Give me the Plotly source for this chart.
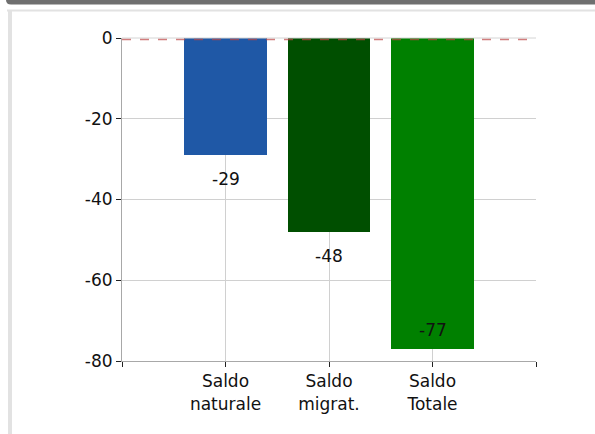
import plotly.graph_objects as go

categories = ["Saldo<br>naturale", "Saldo<br>migrat.", "Saldo<br>Totale"]
values = [-29, -48, -77]
bar_colors = ["#1F58A6", "#004F00", "#008000"]
y_ticks = [0, -20, -40, -60, -80]
y_tick_labels = ["0", "-20", "-40", "-60", "-80"]

W, H = 595, 434
ML, MR, MT, MB = 122, 59, 38, 73
PW, PH = W - ML - MR, H - MT - MB


def px(x):
    return (x - ML) / PW


def py(y):
    return (H - MB - y) / PH


FONT = "DejaVu Sans, Arial, sans-serif"
xpos = [i + 1 for i in range(len(values))]

fig = go.Figure()
fig.add_trace(go.Bar(
    x=xpos, y=values, width=0.8,
    marker=dict(color=bar_colors, line=dict(width=0)),
    hoverinfo="skip", showlegend=False,
))

annotations = []
for x, v in zip(xpos, values):
    below = v > -70
    annotations.append(dict(
        x=x, y=v, xref="x", yref="y", text=str(v), showarrow=False,
        yanchor="middle", yshift=-24 if below else 19,
        font=dict(family=FONT, size=17, color="#111111"),
    ))

# header bar with rounded bottom-left corner (paper coords)
hx0, hx1, hy0, hy1, r = 6, 596, -1, 4.5, 5
header_path = (
    f"M {px(hx0)},{py(hy0)} L {px(hx1)},{py(hy0)} L {px(hx1)},{py(hy1)} "
    f"L {px(hx0 + r)},{py(hy1)} Q {px(hx0)},{py(hy1)} {px(hx0)},{py(hy1 - r)} Z"
)

shapes = [
    dict(type="path", xref="paper", yref="paper", path=header_path,
         fillcolor="#6f6f6f", line=dict(width=0), layer="above"),
    # frame top line
    dict(type="line", xref="paper", yref="paper", x0=px(7), x1=px(596), y0=py(10.5), y1=py(10.5),
         line=dict(color="#e2e2e2", width=2)),
    # frame left line
    dict(type="line", xref="paper", yref="paper", x0=px(10), x1=px(10), y0=py(10), y1=py(435),
         line=dict(color="#e2e2e2", width=4)),
    # plot top border
    dict(type="line", xref="paper", yref="paper", x0=0, x1=1, y0=1, y1=1,
         line=dict(color="#d4d4d4", width=1)),
    # zero dashed reference line (drawn just inside the top edge)
    dict(type="line", xref="paper", yref="paper", x0=0, x1=1, y0=py(MT + 1.5), y1=py(MT + 1.5),
         line=dict(color="rgba(190,70,70,0.7)", width=1.5, dash="dash"), layer="above"),
]

fig.update_layout(
    width=W, height=H,
    margin=dict(l=ML, r=MR, t=MT, b=MB, pad=0),
    paper_bgcolor="white", plot_bgcolor="white",
    font=dict(family=FONT, size=17, color="#111111"),
    annotations=annotations, shapes=shapes,
    bargap=0,
)
fig.update_xaxes(
    range=[0, 4], tickmode="array", tickvals=[0, 1, 2, 3, 4],
    ticktext=[""] + categories + [""],
    showgrid=True, gridcolor="#d0d0d0", gridwidth=1,
    showline=True, linecolor="#a8a8a8", linewidth=1,
    ticks="outside", ticklen=5, tickcolor="#222222", tickwidth=1,
    zeroline=False, fixedrange=True,
    tickfont=dict(family=FONT, size=17, color="#111111"),
)
fig.update_yaxes(
    range=[-80, 0], tickmode="array", tickvals=y_ticks, ticktext=y_tick_labels,
    showgrid=True, gridcolor="#d0d0d0", gridwidth=1,
    showline=True, linecolor="#a8a8a8", linewidth=1,
    ticks="outside", ticklen=5, tickcolor="#222222", tickwidth=1,
    zeroline=False, fixedrange=True,
    tickfont=dict(family=FONT, size=17, color="#111111"),
)

fig.write_html("out.html", config=dict(displayModeBar=False))
